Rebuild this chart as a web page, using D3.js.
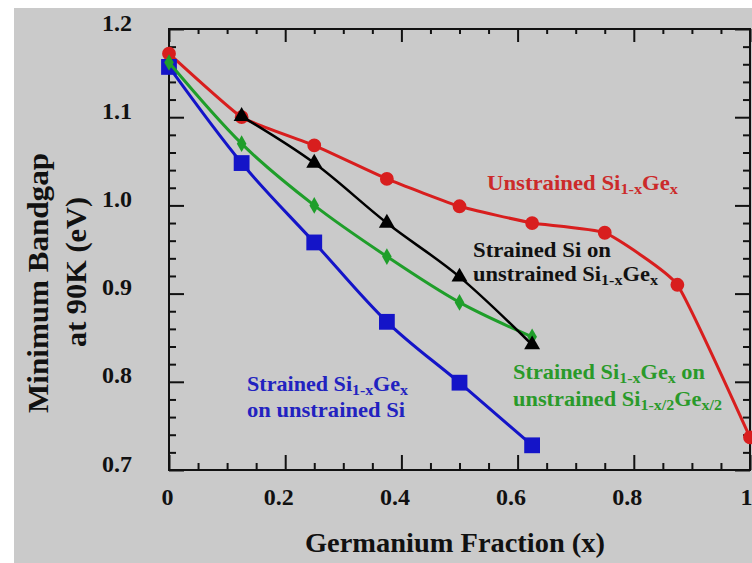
<!DOCTYPE html>
<html>
<head>
<meta charset="utf-8">
<script src="https://cdn.jsdelivr.net/npm/d3@7"></script>
<style>
  html, body { margin: 0; padding: 0; background: #ffffff; }
  svg { display: block; }
  text { font-family: "Liberation Serif", "Times New Roman", serif; font-weight: bold; }
</style>
</head>
<body>
<svg id="chart" width="752" height="563"></svg>
<script>
// ---------- data ----------
const geFracUnstrained = [0, 0.125, 0.25, 0.375, 0.5, 0.625, 0.75, 0.875, 1.0];
const unstrainedSiGe   = [1.172, 1.100, 1.068, 1.030, 0.999, 0.980, 0.969, 0.910, 0.737];

const geFracStrainedSi = [0.125, 0.25, 0.375, 0.5, 0.625];
const strainedSiOnSiGe = [1.101, 1.048, 0.980, 0.919, 0.842];

const geFracHalf       = [0, 0.125, 0.25, 0.375, 0.5, 0.625];
const strainedSiGeOnHalf = [1.162, 1.070, 1.000, 0.942, 0.890, 0.851];

const geFracOnSi       = [0, 0.125, 0.25, 0.375, 0.5, 0.625];
const strainedSiGeOnSi = [1.157, 1.048, 0.958, 0.868, 0.799, 0.728];

const xTickValues = [0, 0.2, 0.4, 0.6, 0.8, 1];
const xTickLabels = ["0", "0.2", "0.4", "0.6", "0.8", "1"];
const yTickValues = [0.7, 0.8, 0.9, 1.0, 1.1, 1.2];
const yTickLabels = ["0.7", "0.8", "0.9", "1.0", "1.1", "1.2"];

const xTitle = "Germanium Fraction (x)";
const yTitleLines = ["Minimum Bandgap", "at 90K (eV)"];

// ---------- layout ----------
const svg = d3.select("#chart");
const L = 169, R = 750, T = 29, B = 470;
const x = d3.scaleLinear().domain([0, 1]).range([L, R]);
const y = d3.scaleLinear().domain([0.7, 1.2]).range([B, T]);

// background
svg.append("rect").attr("x", 0).attr("y", 0).attr("width", 752).attr("height", 563).attr("fill", "#ffffff");
svg.append("rect").attr("x", 14).attr("y", 8).attr("width", 738).attr("height", 555).attr("fill", "#cacaca");

svg.append("clipPath").attr("id", "clip").append("rect")
  .attr("x", L - 12).attr("y", T - 12).attr("width", 752 - L + 12).attr("height", B - T + 24);

// ---------- axes ----------
const majorLen = 15, minorLen = 7;
const xMinor = d3.range(0, 1.0001, 0.05).map(v => +v.toFixed(2)).filter(v => !xTickValues.some(t => Math.abs(t - v) < 1e-6));
const yMinor = d3.range(0.7, 1.2001, 0.02).map(v => +v.toFixed(2)).filter(v => !yTickValues.some(t => Math.abs(t - v) < 1e-6));

function styleAxis(g) {
  g.select(".domain").remove();
  g.selectAll("line").attr("stroke", "#111").attr("stroke-width", 2);
}

// bottom
const gxB = svg.append("g").attr("transform", `translate(0,${B})`)
  .call(d3.axisBottom(x).tickValues(xTickValues).tickSize(-majorLen).tickFormat((d, i) => xTickLabels[i]));
styleAxis(gxB);
gxB.selectAll("text")
  .attr("y", 35).attr("dy", 0)
  .attr("dx", d => d === 0 ? -2 : (d === 1 ? 0 : -7))
  .attr("text-anchor", d => d === 1 ? "end" : "middle")
  .attr("x", d => d === 1 ? 752 - R : 0)
  .attr("font-size", 24).attr("fill", "#111");
svg.append("g").attr("transform", `translate(0,${B})`)
  .call(d3.axisBottom(x).tickValues(xMinor).tickSize(-minorLen).tickFormat(""))
  .call(styleAxis);

// top
svg.append("g").attr("transform", `translate(0,${T})`)
  .call(d3.axisTop(x).tickValues(xTickValues).tickSize(-13).tickFormat(""))
  .call(styleAxis);
svg.append("g").attr("transform", `translate(0,${T})`)
  .call(d3.axisTop(x).tickValues(xMinor).tickSize(-5).tickFormat(""))
  .call(styleAxis);

// left
const gyL = svg.append("g").attr("transform", `translate(${L},0)`)
  .call(d3.axisLeft(y).tickValues(yTickValues).tickSize(-majorLen).tickFormat((d, i) => yTickLabels[i]));
styleAxis(gyL);
gyL.selectAll("text")
  .attr("x", -37).attr("dy", 0).attr("y", 1)
  .attr("text-anchor", "end")
  .attr("font-size", 24).attr("fill", "#111");
svg.append("g").attr("transform", `translate(${L},0)`)
  .call(d3.axisLeft(y).tickValues(yMinor).tickSize(-minorLen).tickFormat(""))
  .call(styleAxis);

// right
svg.append("g").attr("transform", `translate(${R},0)`)
  .call(d3.axisRight(y).tickValues(yTickValues).tickSize(-majorLen).tickFormat(""))
  .call(styleAxis);
svg.append("g").attr("transform", `translate(${R},0)`)
  .call(d3.axisRight(y).tickValues(yMinor).tickSize(-minorLen).tickFormat(""))
  .call(styleAxis);

// frame
svg.append("rect").attr("x", L).attr("y", T).attr("width", R - L).attr("height", B - T)
  .attr("fill", "none").attr("stroke", "#111").attr("stroke-width", 2);

// ---------- series ----------
const plot = svg.append("g").attr("clip-path", "url(#clip)");
const smooth = d3.line().x(d => x(d[0])).y(d => y(d[1])).curve(d3.curveMonotoneX);
const soft = d3.line().x(d => x(d[0])).y(d => y(d[1])).curve(d3.curveCardinal.tension(0.6));
const zip = (xs, ys) => xs.map((v, i) => [v, ys[i]]);

const red = "#d81e1e", black = "#000000", green = "#1f9e2a", blue = "#1414c8";

function series(data, color, width, symbol, size, gen) {
  plot.append("path").datum(data).attr("d", gen)
    .attr("fill", "none").attr("stroke", color).attr("stroke-width", width).attr("stroke-linejoin", "round");
  plot.selectAll(null).data(data).enter().append("path")
    .attr("transform", d => `translate(${x(d[0])},${y(d[1])})`)
    .attr("d", d3.symbol().type(symbol).size(size))
    .attr("fill", color);
}

series(zip(geFracUnstrained, unstrainedSiGe), red, 3, d3.symbolCircle, 150, soft);
series(zip(geFracOnSi, strainedSiGeOnSi), blue, 3, d3.symbolSquare, 250, smooth);
series(zip(geFracHalf, strainedSiGeOnHalf), green, 3, d3.symbolDiamond, 80, smooth);
series(zip(geFracStrainedSi, strainedSiOnSiGe), black, 2.5, d3.symbolTriangle, 110, smooth);

// ---------- labels ----------
function label(parts, px, py, len, color) {
  const t = svg.append("text").attr("x", px).attr("y", py).attr("fill", color)
    .attr("font-size", 21).attr("textLength", len).attr("lengthAdjust", "spacingAndGlyphs");
  let shifted = false;
  parts.forEach(([s, sub]) => {
    const sp = t.append("tspan").text(s);
    if (sub && !shifted) { sp.attr("dy", 4).attr("font-size", 15); shifted = true; }
    else if (sub && shifted) { sp.attr("font-size", 15); }
    else if (!sub && shifted) { sp.attr("dy", -4); shifted = false; }
  });
}

const redLabel    = [[["Unstrained Si", 0], ["1-x", 1], ["Ge", 0], ["x", 1]]];
const blackLabel  = [[["Strained Si on", 0]], [["unstrained Si", 0], ["1-x", 1], ["Ge", 0], ["x", 1]]];
const greenLabel  = [[["Strained Si", 0], ["1-x", 1], ["Ge", 0], ["x", 1], [" on", 0]],
                     [["unstrained Si", 0], ["1-x/2", 1], ["Ge", 0], ["x/2", 1]]];
const blueLabel   = [[["Strained Si", 0], ["1-x", 1], ["Ge", 0], ["x", 1]], [["on unstrained Si", 0]]];

label(redLabel[0], 487, 190, 191, "#cc2a2a");
label(blackLabel[0], 473, 257, 138, "#111");
label(blackLabel[1], 473, 281, 185, "#111");
label(greenLabel[0], 513, 379, 192, "#2a9a2a");
label(greenLabel[1], 513, 406, 209, "#2a9a2a");
label(blueLabel[0], 247, 391, 161, "#2222c0");
label(blueLabel[1], 247, 417, 158, "#2222c0");

// ---------- titles ----------
svg.append("text").attr("x", 305).attr("y", 552).attr("font-size", 27).attr("fill", "#111")
  .attr("textLength", 300).attr("lengthAdjust", "spacingAndGlyphs").text(xTitle);

svg.append("text").attr("transform", "translate(48,283) rotate(-90)").attr("text-anchor", "middle")
  .attr("font-size", 30).attr("fill", "#111").attr("textLength", 260).attr("lengthAdjust", "spacingAndGlyphs")
  .text(yTitleLines[0]);
svg.append("text").attr("transform", "translate(86,272) rotate(-90)").attr("text-anchor", "middle")
  .attr("font-size", 30).attr("fill", "#111").attr("textLength", 150).attr("lengthAdjust", "spacingAndGlyphs")
  .text(yTitleLines[1]);
</script>
</body>
</html>
